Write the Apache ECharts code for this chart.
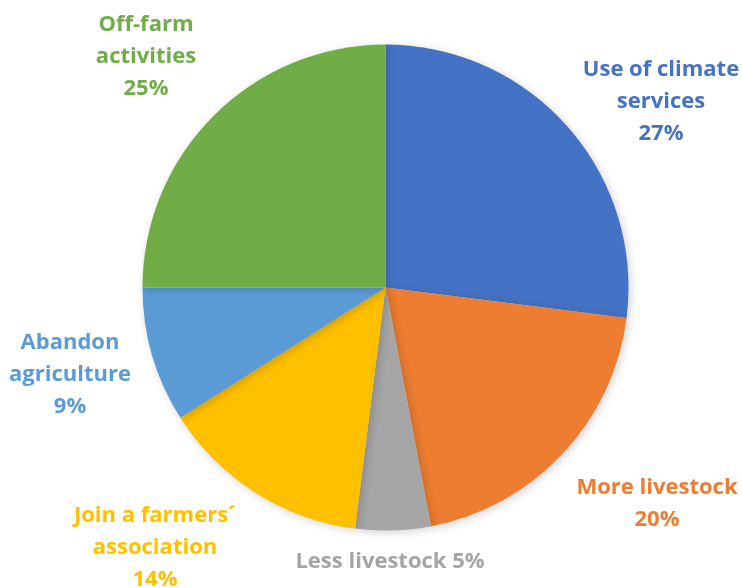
<!DOCTYPE html>
<html>
<head>
<meta charset="utf-8">
<script src="https://cdn.jsdelivr.net/npm/echarts@6/dist/echarts.min.js"></script>
<style>
  html, body { margin: 0; padding: 0; background: #ffffff; }
  #chart { width: 742px; height: 588px; }
</style>
</head>
<body>
<div id="chart"></div>
<script>
// Adaptation strategies (share of responses, %)
const categories = [
  'Use of climate services',
  'More livestock',
  'Less livestock',
  'Join a farmers\u00b4 association',
  'Abandon agriculture',
  'Off-farm activities'
];
const values = [27, 20, 5, 14, 9, 25];
const labelTexts = [
  'Use of climate\nservices\n27%',
  'More livestock\n20%',
  'Less livestock 5%',
  'Join a farmers\u00b4\nassociation\n14%',
  'Abandon\nagriculture\n9%',
  'Off-farm\nactivities\n25%'
];
const colors = ['#4472C4', '#ED7D31', '#A5A5A5', '#FFC000', '#5B9BD5', '#70AD47'];

// where each data label sits (centre of the text block)
const labelSpots = [
  [661, 102], [657, 504], [390, 562], [155, 548], [70, 375], [146, 57]
];

const chart = echarts.init(document.getElementById('chart'), null, { renderer: 'canvas' });

chart.setOption({
  animation: false,
  backgroundColor: '#ffffff',
  series: [{
    type: 'pie',
    center: [385.5, 287.5],
    radius: ['0%', 243],
    startAngle: 90,
    clockwise: true,
    avoidLabelOverlap: false,
    data: categories.map((name, i) => ({
      name,
      value: values[i],
      itemStyle: { color: colors[i] },
      label: { color: colors[i], formatter: labelTexts[i] }
    })),
    itemStyle: {
      borderWidth: 0,
      shadowBlur: 8,
      shadowOffsetX: 2,
      shadowOffsetY: 2,
      shadowColor: 'rgba(0,0,0,0.18)'
    },
    label: {
      show: true,
      position: 'outside',
      fontFamily: '"Open Sans", sans-serif',
      fontWeight: 'bold',
      fontSize: 22,
      lineHeight: 32,
      align: 'center'
    },
    labelLine: { show: false },
    labelLayout: function (params) {
      const p = labelSpots[params.dataIndex];
      return { x: p[0], y: p[1], align: 'center', verticalAlign: 'middle' };
    },
    emphasis: { disabled: true }
  }]
});
</script>
</body>
</html>
